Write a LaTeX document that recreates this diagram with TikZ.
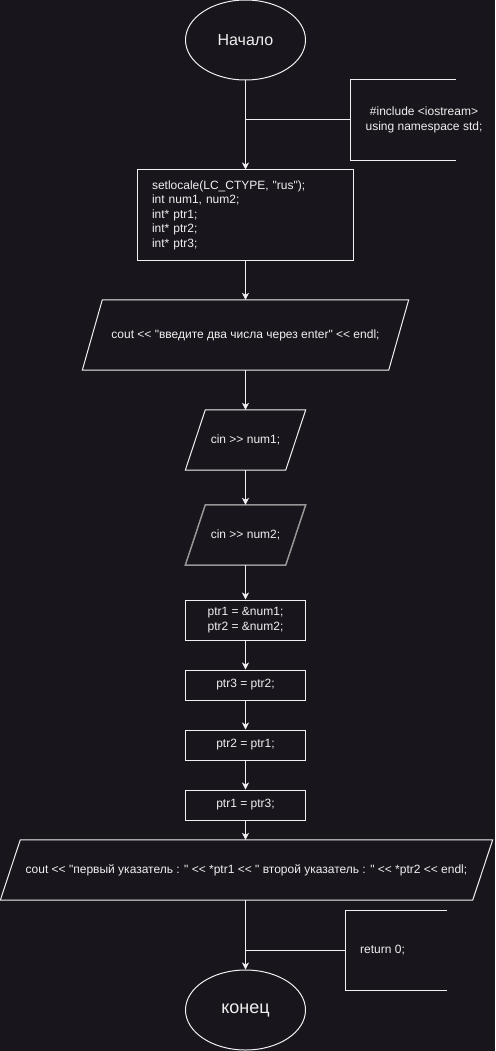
\documentclass[tikz,border=0pt]{standalone}
\usepackage{fontspec}
\setmainfont{Liberation Sans}[Ligatures=TeXOff]
\usetikzlibrary{arrows.meta,shapes.geometric,positioning}
\definecolor{bg}{RGB}{24,21,28}
\definecolor{fg}{RGB}{240,240,240}
\definecolor{selgray}{RGB}{150,150,150}
\begin{document}
\begin{tikzpicture}[x=1pt,y=-1pt,
  every node/.style={text=fg, inner sep=0pt, font=\fontsize{12}{14.5}\selectfont},
  line/.style={draw=fg, line width=1pt},
  arr/.style={line, -{Stealth[length=7pt,width=7pt,inset=2pt]}},
  term/.style={ellipse, line, minimum width=120pt, minimum height=80pt},
  proc/.style={rectangle, line, minimum height=30pt, minimum width=120pt, align=center},
  iobox/.style={rectangle, draw=none, align=center},
  skewed/.style={line, line join=miter}
]
\fill[bg] (0,0) rectangle (495,1051);
\useasboundingbox (0,0) rectangle (495,1051);

% nodes
\node[term, font=\fontsize{16}{19}\selectfont] (start) at (245.5,40) {Начало};

\node[proc, minimum width=216pt, minimum height=90pt, align=left, text width=187pt] (init) at (245.5,215)
  {setlocale(LC\_CTYPE, "rus");\\int num1, num2;\\int* ptr1;\\int* ptr2;\\int* ptr3;};

\node[iobox, minimum width=326pt, minimum height=70pt] (out1) at (245.5,335)
  {cout << "введите два числа через enter" << endl;};
\node[iobox, minimum width=120pt, minimum height=60pt] (in1) at (245.5,440) {cin >> num1;};
\node[iobox, minimum width=120pt, minimum height=60pt] (in2) at (245.5,535) {cin >> num2;};

\node[proc, minimum height=40pt] (p1) at (245.5,620) {ptr1 = \&num1;\\ptr2 = \&num2;};
\node[proc] (p2) at (245.5,685) {ptr3 = ptr2;};
\node[proc] (p3) at (245.5,745) {ptr2 = ptr1;};
\node[proc] (p4) at (245.5,805) {ptr1 = ptr3;};

\node[iobox, minimum width=492pt, minimum height=60pt] (out2) at (246.5,870)
  {cout << "первый указатель : " << *ptr1 << " второй указатель : " << *ptr2 << endl;};

\node[term, font=\fontsize{18}{21}\selectfont] (end) at (245.5,1010) {конец};

% parallelogram outlines
\foreach \n in {out1,in1,out2}{
  \draw[skewed] ([xshift=20pt]\n.north west) -- (\n.north east)
     -- ([xshift=-20pt]\n.south east) -- (\n.south west) -- cycle;
}
\draw[skewed, draw=selgray, line width=1.5pt] ([xshift=20pt]in2.north west) -- (in2.north east)
     -- ([xshift=-20pt]in2.south east) -- (in2.south west) -- cycle;

% annotations
\node[draw=none, minimum width=105pt, minimum height=80pt] (ann1) at (403.5,120) {};
\draw[line] (ann1.north east) -- (ann1.north west) -- (ann1.south west) -- (ann1.south east);
\node[align=center] (ann1t) at (424,120) {\#include <iostream>\\using namespace std;};
\coordinate (j1) at (245.5,120);
\draw[line] (ann1.west) -- (j1);

\node[draw=none, minimum width=101pt, minimum height=79pt] (ann2) at (396.5,950.5) {};
\draw[line] (ann2.north east) -- (ann2.north west) -- (ann2.south west) -- (ann2.south east);
\node[anchor=west] (ann2t) at (360,950) {return 0;};
\coordinate (j2) at (245.5,950.5);
\draw[line] (ann2.west) -- (j2);

% connectors
\draw[arr] (start) -- (init);
\draw[arr] (init) -- (out1);
\draw[arr] (out1) -- (in1);
\draw[arr] (in1) -- (in2);
\draw[arr] (in2) -- (p1);
\draw[arr] (p1) -- (p2);
\draw[arr] (p2) -- (p3);
\draw[arr] (p3) -- (p4);
\draw[arr] (p4) -- (p4 |- out2.north);
\draw[arr] (p4 |- out2.south) -- (end);
\end{tikzpicture}
\end{document}
